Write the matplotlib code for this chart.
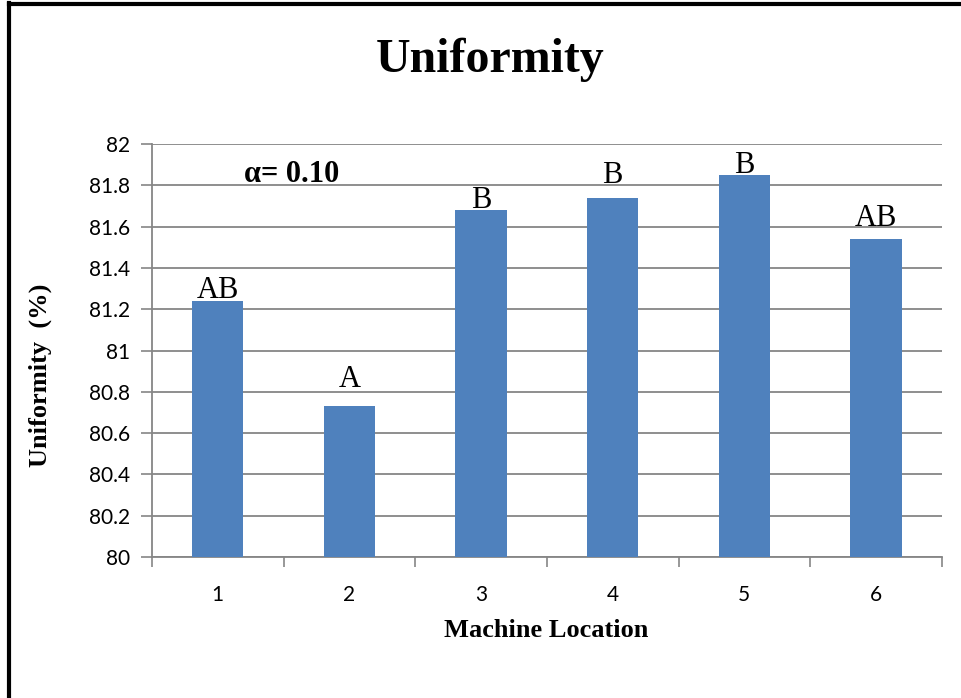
import matplotlib.pyplot as plt
from matplotlib.lines import Line2D
from matplotlib.ticker import FixedLocator

locations = ['1', '2', '3', '4', '5', '6']
uniformity = [81.24, 80.73, 81.68, 81.74, 81.85, 81.54]
groups = ['AB', 'A', 'B', 'B', 'B', 'AB']
# baseline of each group letter, placed by hand in the original
group_y = [81.254, 80.823, 81.69, 81.81, 81.861, 81.603]
yticks = [80, 80.2, 80.4, 80.6, 80.8, 81, 81.2, 81.4, 81.6, 81.8, 82]
ytick_labels = ['80', '80.2', '80.4', '80.6', '80.8', '81', '81.2', '81.4', '81.6', '81.8', '82']

serif = ['Liberation Serif', 'DejaVu Serif']
sans = ['Lato', 'DejaVu Sans']
grey = '#868686'

fig = plt.figure(figsize=(9.62, 6.98), dpi=100)
ax = fig.add_axes([0.158, 0.202, 0.821, 0.5917])

x = list(range(len(locations)))
ax.bar(x, [v - 80 for v in uniformity], bottom=80, width=0.39, color='#4F81BD', zorder=3)

for xi, gy, g in zip(x, group_y, groups):
    ax.text(xi, gy, g, ha='center', va='baseline', fontsize=22,
            family=serif, zorder=4)

ax.text(0.2, 81.815, '\u03b1= 0.10', ha='left', va='baseline', fontsize=22,
        fontweight='bold', family=serif)

ax.set_xlim(-0.5, 5.5)
ax.set_ylim(80, 82)
ax.set_xticks(x)
ax.set_xticklabels(locations, family=sans, fontsize=15)
ax.xaxis.set_minor_locator(FixedLocator([i + 0.5 for i in range(-1, 6)]))
ax.tick_params(axis='x', which='major', length=0, pad=20)
ax.tick_params(axis='x', which='minor', length=7, width=1.2, color=grey, direction='out')
ax.set_yticks(yticks)
ax.set_yticklabels(ytick_labels, family=sans, fontsize=15)
ax.tick_params(axis='y', length=8, width=1.2, color=grey, pad=8)

ax.grid(axis='y', color=grey, linewidth=1.3, zorder=0)
for s in ['top', 'right']:
    ax.spines[s].set_visible(False)
for s in ['left', 'bottom']:
    ax.spines[s].set_color(grey)
    ax.spines[s].set_linewidth(1.3)

fig.text(0.5675, 0.097, 'Machine Location', ha='center', va='center', fontsize=19,
         fontweight='bold', family=serif)
fig.text(0.042, 0.462, 'Uniformity  (%)', ha='center', va='center', rotation=90,
         fontsize=19, fontweight='bold', family=serif)
fig.text(0.509, 0.915, 'Uniformity', ha='center', va='center', fontsize=34.5,
         fontweight='bold', family=serif)

# frame of the original slide (only top and left edges are in view)
fig.add_artist(Line2D([0.0095, 0.0095], [0, 0.995], transform=fig.transFigure,
                      color='black', linewidth=3))
fig.add_artist(Line2D([0.0095, 1], [0.9945, 0.9945], transform=fig.transFigure,
                      color='black', linewidth=3))

fig.savefig('out.png', dpi=100)
